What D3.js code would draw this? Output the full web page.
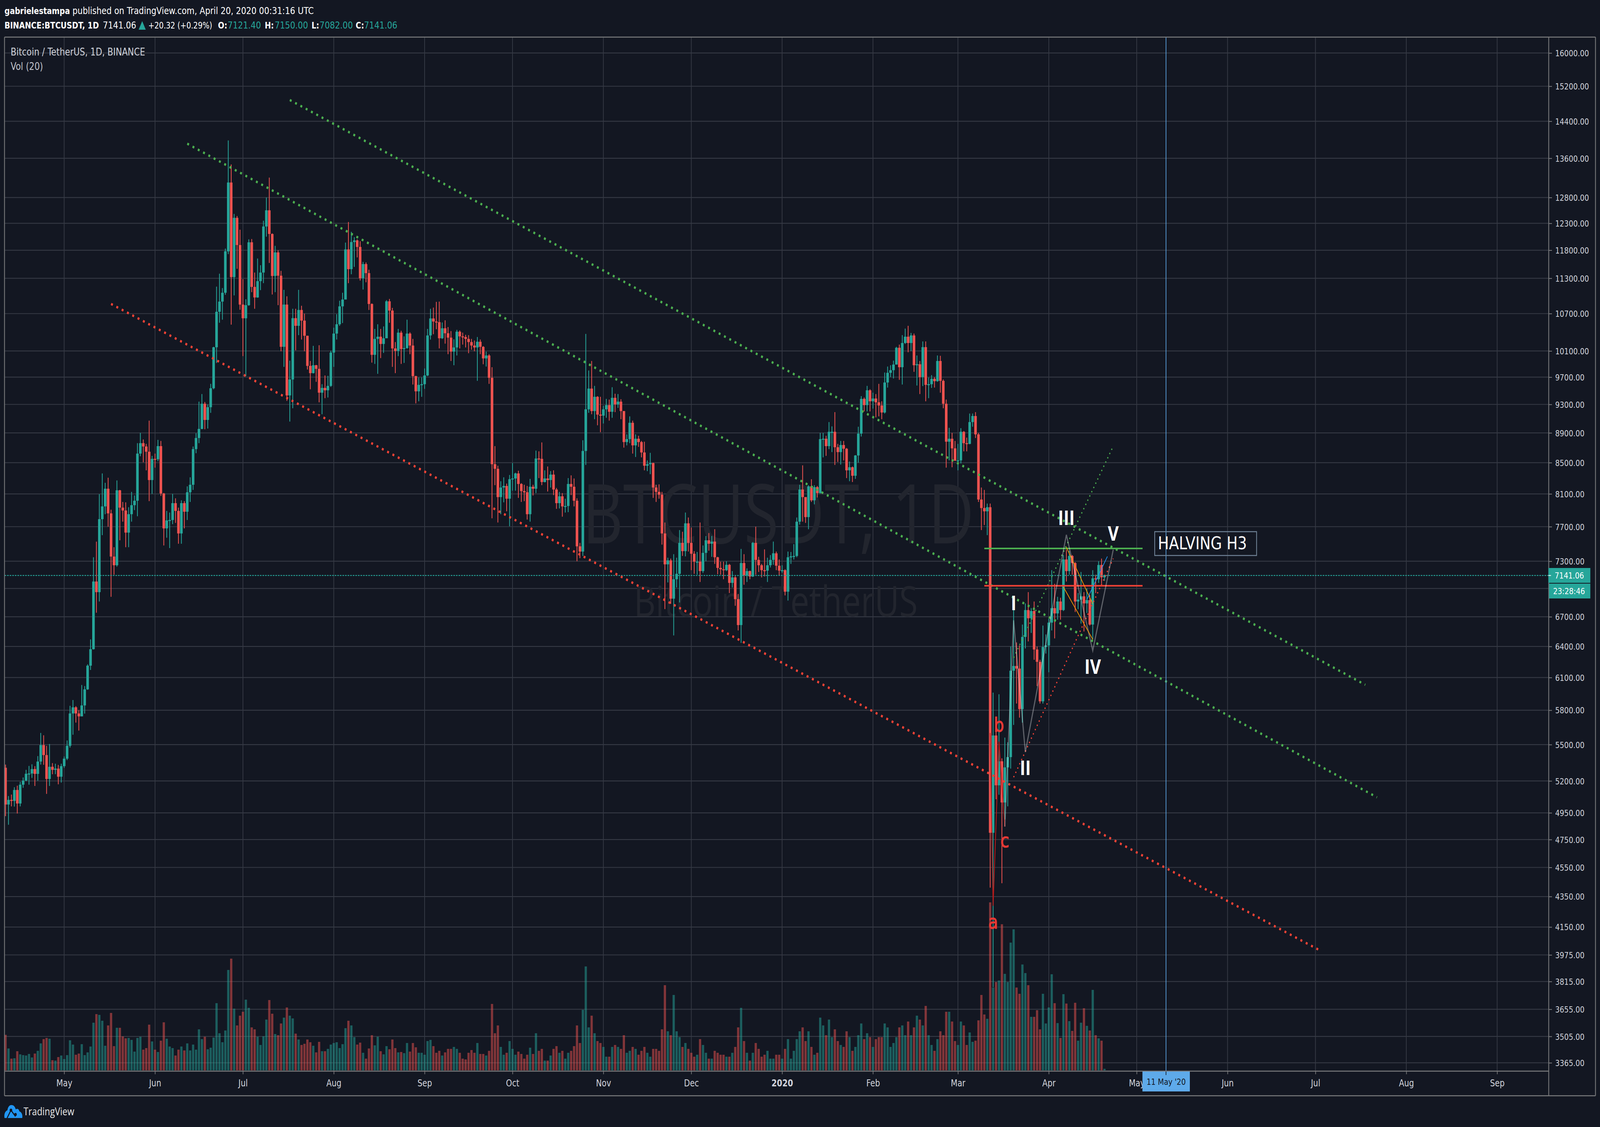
<!DOCTYPE html>
<html><head><meta charset="utf-8">
<script src="https://cdn.jsdelivr.net/npm/d3@7/dist/d3.min.js"></script>
<style>html,body{margin:0;padding:0;background:#131722;overflow:hidden;width:100%;height:100%}svg{display:block}text{font-family:"DejaVu Sans",sans-serif}</style>
</head><body><div id="chart"></div>
<script>
const firstOpen = 5307;
const closes = [
5014,5050,5042,5128,5022,5170,5203,5258,5260,5296,5257,5358,5496,5412,5216,5315,5290,5300,5234,5320,
5382,5490,5771,5826,5771,5745,5843,5990,6213,6373,7075,6960,7790,7945,8165,7860,7353,7255,8145,7930,7895,7630,7850,7960,8015,8620,8760,8715,8645,8275,8550,
8545,8720,8105,7680,7775,7780,7985,7890,7620,7985,7880,8120,8215,8680,8830,8955,9310,9080,9260,9535,10158,10730,10900,11050,11780,13100,11320,12405,11895,10850,
10623,10840,11945,11150,10970,11250,11400,12240,12550,12100,11340,11760,11345,10165,10850,9430,9665,10625,10500,10760,10585,10340,9870,9760,9880,9825,9470,9540,9505,9570,10075,
10375,10525,10820,10935,11815,11460,11950,11980,11860,11300,11550,11390,10860,10040,10290,10325,10210,10300,10905,10750,10140,10100,10390,10130,10145,10375,10185,9715,9490,9585,9595,
9725,10345,10620,10570,10560,10300,10460,10380,10310,10090,10155,10405,10330,10320,10290,10240,10185,10155,10245,10165,9985,10030,9690,8480,8420,8060,8180,8200,8040,8286,
8295,8360,8225,8135,8120,7850,8190,8165,8555,8550,8250,8295,8275,8345,8155,7985,8070,7945,7950,8225,8190,8015,7470,7410,8655,9230,9530,9205,9410,9155,9140,
9230,9290,9195,9395,9300,9340,9205,8775,8815,9040,8730,8820,8775,8635,8460,8480,8495,8180,8125,8090,7620,7265,7310,6890,7100,7160,7510,7415,7740,7510,
7385,7295,7295,7190,7395,7540,7500,7525,7345,7225,7210,7200,7260,7060,7120,6885,6615,7280,7145,7190,7130,7510,7315,7255,7200,7195,7255,7315,7390,7250,7195,
7200,6965,7345,7355,7360,7760,8155,8060,7815,8195,8020,8185,8110,8815,8820,8720,8915,8915,8705,8640,8735,8685,8400,8440,8330,8595,8890,9380,9290,9505,9345,
9385,9330,9285,9185,9620,9765,9805,9890,10150,9850,10225,10325,10225,10345,9880,9895,9700,10160,9585,9595,9675,9640,9945,9645,9310,8780,8820,8690,8525,
8530,8915,8760,8750,9050,9135,8880,8030,7925,7885,7935,4800,5578,5165,5360,5030,5310,5395,6165,6210,6185,5810,6495,6770,6685,6760,6370,6250,5880,6395,6410,
6640,6790,6735,6860,6770,7320,7190,7360,7280,6860,6880,6915,6840,6875,6620,7110,7100,7258,7121.4,7141.06];
const highs = [
5333,5080,5092,5150,5162,5193,5228,5290,5322,5335,5320,5403,5600,5580,5490,5505,5345,5340,5330,5340,
5400,5535,5840,5892,5836,5800,6030,6020,6225,6470,7345,7524,8097,8360,8240,8305,7905,7460,8270,8150,8000,7995,7935,8125,8080,8760,8900,8810,8750,9070,8590,
8620,8805,8790,8112,7890,7870,8100,8045,7930,8020,8010,8195,8310,8715,8895,9340,9450,9335,9300,9600,10165,11155,11380,11130,11830,13980,13470,12480,12440,12180,
11285,10940,12000,12006,11400,11650,11530,12350,12800,13200,12110,11880,11800,11430,11100,10990,9950,10780,10780,11100,10830,10700,10340,9945,10180,9885,10190,9595,9725,9720,10103,
10470,10690,10915,11050,11940,12325,12140,12040,12000,11965,11590,11580,11450,10870,10450,10525,10450,10490,10925,10945,10795,10240,10450,10420,10330,10600,10395,10290,9720,9695,9695,
9830,10450,10780,10800,10895,10900,10555,10590,10480,10415,10285,10435,10425,10390,10355,10350,10290,10265,10320,10280,10175,10090,10050,9850,8720,8460,8260,8310,8230,8340,
8495,8370,8395,8235,8215,8200,8290,8215,8660,8650,8770,8400,8450,8390,8400,8175,8125,8110,8040,8300,8335,8295,8045,7510,8800,10370,9800,9945,9570,9420,9410,
9280,9380,9370,9550,9455,9450,9375,9205,8880,9130,9070,8880,8860,8790,8780,8530,8630,8500,8215,8220,8125,7750,7340,7330,7380,7340,7660,7640,7870,7810,
7690,7415,7405,7750,7480,7590,7625,7590,7670,7350,7295,7295,7300,7270,7190,7135,6940,7440,7380,7220,7195,7520,7700,7350,7270,7435,7340,7370,7525,7410,7320,
7255,7210,7410,7405,7495,7810,8215,8465,8060,8210,8285,8210,8200,8900,8900,8860,9050,8990,9190,8750,8790,8790,8695,8515,8450,8600,8985,9420,9400,9570,9520,
9470,9450,9600,9345,9770,9860,9880,9950,10165,10200,10350,10455,10500,10385,10375,10030,9945,10250,10250,9695,9730,9700,10030,10025,9665,9370,8970,8900,8790,
8750,8965,8925,8835,9170,9170,9190,8900,8180,8150,7980,7980,5960,5640,5945,5385,5560,5520,6400,6920,6440,6410,6620,6840,6960,6790,6860,6400,6270,6610,6520,
6680,7200,7050,6910,6900,7370,7430,7420,7370,7290,6950,7180,6960,7000,6930,7200,7150,7300,7330,7150];
const lows = [
4925,4860,5000,4998,4945,5000,5145,5198,5170,5225,5160,5202,5333,5331,5097,5160,5254,5255,5173,5187,
5306,5370,5475,5585,5690,5620,5745,5770,5985,6172,6370,6742,6860,7600,7850,7700,6910,7150,7240,7540,7760,7460,7460,7760,7900,7825,8585,8505,8400,8010,8100,
8435,8520,8075,7480,7570,7450,7730,7745,7500,7500,7680,7780,8000,8150,8625,8760,8950,8950,8960,9180,9520,9914,10550,10600,11015,11730,10520,11005,11467,10764,
10020,9715,10830,11060,10780,10965,11095,11215,12050,11570,11020,11060,10840,10095,9855,9350,9057,9245,10110,10350,10280,10095,9815,9520,9755,9630,9330,9160,9390,9400,9555,
9855,10280,10500,10545,10940,11215,11370,11500,11670,11260,11105,11230,10760,9920,9900,9750,9990,10070,10300,10550,9855,9760,10020,9900,9915,10135,10050,9590,9315,9345,9410,
9525,9715,10280,10365,10445,10140,10290,10215,10050,9945,9880,10030,10140,10200,10155,10065,10120,10095,9645,10050,9895,9860,9600,7800,8210,7750,7850,7995,7885,7705,
8140,8140,8050,8000,8010,7785,7760,8080,8110,8300,8210,8245,8130,8180,8085,7915,7920,7820,7870,7875,8085,7945,7300,7335,7360,8470,9180,9160,9090,9005,8910,
9030,9110,9070,9110,9190,9250,9090,8700,8730,8760,8620,8575,8710,8570,8400,8390,8350,8050,8000,8040,7490,6780,7065,6835,6510,7010,6850,7360,7355,7410,
7200,7160,7150,7070,7170,7300,7420,7350,7270,7155,7150,7100,7190,6950,7010,6815,6560,6435,7040,7070,7100,7125,7150,7180,7120,7130,7070,7230,7260,7200,7140,
7170,6925,6870,7270,7320,7345,7725,7760,7745,7670,8000,7970,8055,8105,8570,8590,8680,8640,8470,8510,8475,8530,8300,8260,8250,8290,8500,8850,9200,9200,9200,
9240,9115,9130,9090,9170,9545,9700,9680,9890,9660,9590,10210,10080,10100,9780,9575,9450,9567,9345,9390,9540,9545,9630,9470,9245,8435,8530,8440,8525,
8400,8490,8650,8650,8745,8985,8830,8000,7660,7720,7600,4410,3782,5055,5090,4440,4900,5000,5300,5670,5860,5734,5690,6380,6450,6535,6270,6020,5860,5860,6330,
6150,6560,6480,6670,6670,6760,7075,7150,7150,6750,6780,6630,6550,6740,6610,6470,6950,7060,7055,7082];
const volumes = [
91,56,30,31,49,41,39,38,42,33,43,50,69,80,83,81,26,25,34,38,
29,39,77,66,40,43,67,39,46,61,122,144,142,127,63,115,147,62,109,109,87,82,83,78,48,83,86,53,57,117,74,
53,47,76,123,81,61,57,38,53,61,51,69,51,66,53,105,80,86,54,58,84,172,95,72,102,257,286,158,115,140,
150,181,160,110,105,86,65,87,130,180,145,93,90,120,135,161,140,133,94,79,65,68,79,72,63,46,73,49,49,55,
66,70,72,57,67,108,127,115,85,66,71,45,30,56,90,64,86,49,41,62,54,79,57,46,47,44,70,48,70,59,45,
45,
40,75,78,62,45,50,38,46,55,55,60,55,45,30,28,45,52,45,70,42,42,38,50,170,95,115,60,40,45,75,
55,40,48,42,30,40,58,42,95,50,55,25,25,38,55,62,45,50,30,45,50,62,115,70,155,266,110,140,95,75,70,
60,35,35,60,65,60,55,90,45,50,60,55,40,50,60,45,35,55,55,50,105,218,100,90,193,100,85,60,70,55,
45,35,40,80,65,45,30,30,50,45,40,40,35,35,45,60,110,160,75,45,25,45,70,55,35,40,50,30,30,40,40,
30,55,80,30,50,80,100,110,75,100,60,40,45,135,115,90,130,85,105,75,65,60,100,85,50,60,90,120,80,95,85,
60,80,85,85,120,110,60,70,85,110,115,90,125,90,110,140,130,115,165,90,65,50,80,100,90,150,150,125,75,
65,125,115,
65,97,73,76,128,193,143,132,430,212,226,230,374,247,226,327,361,212,196,271,249,218,137,137,154,105,196,120,
161,246,172,121,83,195,171,126,101,173,76,122,159,114,102,206,90,82,76,4];
const priceTicks = [16000,15200,14400,13600,12800,12300,11800,11300,10700,10100,9700,9300,8900,8500,8100,7700,7300,7000,6700,6400,6100,5800,5500,5200,4950,4750,4550,4350,4150,3975,3815,3655,3505,3365];
const monthTicks = ["2019-05-01","2019-06-01","2019-07-01","2019-08-01","2019-09-01","2019-10-01","2019-11-01","2019-12-01","2020-01-01","2020-02-01","2020-03-01","2020-04-01","2020-05-01","2020-06-01","2020-07-01","2020-08-01","2020-09-01"];
const monthLabels = ["May","Jun","Jul","Aug","Sep","Oct","Nov","Dec","2020","Feb","Mar","Apr","May","Jun","Jul","Aug","Sep"];
const bigDottedGreen = [[["2019-07-17",14880],["2020-07-18",6032]],[["2019-06-12",13910],["2020-07-22",5070]]];
const bigDottedRed = [["2019-05-17",10861],["2020-07-02",4008]];
const smallDottedGreen = [["2020-03-20",6290],["2020-04-23",8720]];
const smallDottedRed = [["2020-03-20",5230],["2020-04-23",7330]];
const waveGrey = [["2020-03-17",4846],["2020-03-20",6664],["2020-03-24",5437],["2020-04-07",7604],["2020-04-16",6359],["2020-04-23",7432]];
const waveRed = [["2020-03-12",5600],["2020-03-13",4288],["2020-03-15",5526],["2020-03-17",4846]];
const orangeLines = [[["2020-04-07",7459],["2020-04-16",6835]],[["2020-04-06",7015],["2020-04-16",6470]]];
const blueLine = [["2020-04-14",6880],["2020-04-21",7354]];
const resistance = [["2020-03-10",7446],["2020-05-03",7446]];
const support = [["2020-03-10",7029],["2020-05-03",7029]];
const waveLabels = [["I","2020-03-20",6770],["II","2020-03-24",5247],["III","2020-04-07",7722],["IV","2020-04-16",6134],["V","2020-04-23",7535]];
const abcLabels = [["a","2020-03-13",4141],["b","2020-03-15",5611],["c","2020-03-17",4693]];

const C = {bg:"#131722",grid:"#363a45",border:"#7b7c7e",text:"#d1d4dc",teal:"#26a69a",red:"#ef5350",green:"#4caf50",dred:"#f44336",blue:"#5eaaea"};
const W=4962,H=2885,L=14,T=95,R=4803,B=2742,RR=4948,BB=2805;

const P=d3.utcParse("%Y-%m-%d");
const start=P("2019-04-11");
const dates=d3.range(376).map(i=>d3.utcDay.offset(start,i));
const candles=dates.map((d,i)=>({d,o:i?closes[i-1]:firstOpen,h:highs[i],l:lows[i],c:closes[i],v:volumes[i]}));

const x=d3.scaleUtc().domain([P("2019-05-01"),P("2020-09-01")]).range([199,4643]);
const y=d3.scaleLog().domain([16000,3365]).range([135.7,2720.7]);
const yv=d3.scaleLinear().domain([0,430]).range([2740,2310]);
const pt=p=>[x(P(p[0])),y(p[1])];
const line=pts=>d3.line()(pts.map(pt));

// The whole 4962x2885 drawing is fitted to the window that is actually available.
const svg=d3.select("#chart").append("svg").attr("width",window.innerWidth).attr("height",window.innerHeight)
  .attr("viewBox",`0 0 ${W} ${H}`).attr("preserveAspectRatio","none");
svg.append("rect").attr("width",W).attr("height",H).attr("fill",C.bg);
svg.append("clipPath").attr("id","plot").append("rect").attr("x",L).attr("y",T).attr("width",R-L).attr("height",B-T);

// grid
const grid=svg.append("g").attr("clip-path","url(#plot)").attr("stroke",C.grid).attr("stroke-width",2.2);
grid.selectAll(".h").data(priceTicks).join("line").attr("x1",L).attr("x2",R).attr("y1",d=>y(d)).attr("y2",d=>y(d));
grid.selectAll(".v").data(monthTicks).join("line").attr("y1",T).attr("y2",B).attr("x1",d=>x(P(d))).attr("x2",d=>x(P(d)));

// watermark
svg.append("text").attr("x",1806).attr("y",1391).attr("font-size",210).attr("fill","#22252e").attr("textLength",1215).attr("lengthAdjust","spacingAndGlyphs").style("font-family","'Open Sans'").text("BTCUSDT, 1D");
svg.append("text").attr("x",1966).attr("y",1578).attr("font-size",108).attr("fill","#22252e").attr("textLength",880).attr("lengthAdjust","spacingAndGlyphs").style("font-family","'Open Sans'").text("Bitcoin / TetherUS");

const plot=svg.append("g").attr("clip-path","url(#plot)");
// volume
plot.append("g").selectAll("rect").data(candles).join("rect")
 .attr("x",d=>x(d.d)-3.5).attr("width",7).attr("y",d=>yv(d.v)).attr("height",d=>yv(0)-yv(d.v))
 .attr("fill",d=>d.c>=d.o?C.teal:C.red).attr("opacity",.5);
// candles
const cg=plot.append("g");
cg.selectAll("line").data(candles).join("line").attr("x1",d=>x(d.d)).attr("x2",d=>x(d.d)).attr("y1",d=>y(d.h)).attr("y2",d=>y(d.l))
 .attr("stroke",d=>d.c>=d.o?C.teal:C.red).attr("stroke-width",2.4);
cg.selectAll("rect").data(candles).join("rect").attr("x",d=>x(d.d)-4).attr("width",8)
 .attr("y",d=>y(Math.max(d.o,d.c))).attr("height",d=>Math.max(2.5,Math.abs(y(d.o)-y(d.c))))
 .attr("fill",d=>d.c>=d.o?C.teal:C.red);

// price line
plot.append("line").attr("x1",L).attr("x2",R).attr("y1",y(7141.06)).attr("y2",y(7141.06)).attr("stroke",C.teal).attr("stroke-width",2.2).attr("stroke-dasharray","5 3");

// drawings
const draw=svg.append("g").attr("clip-path","url(#plot)").attr("fill","none");
draw.selectAll(".bg").data(bigDottedGreen).join("path").attr("d",line).attr("stroke",C.green).attr("stroke-width",6).attr("stroke-dasharray","6 12");
draw.append("path").attr("d",line(bigDottedRed)).attr("stroke",C.dred).attr("stroke-width",6).attr("stroke-dasharray","6 12");
draw.append("path").attr("d",line(smallDottedGreen)).attr("stroke",C.green).attr("stroke-width",3.5).attr("stroke-dasharray","3.5 9");
draw.append("path").attr("d",line(smallDottedRed)).attr("stroke",C.dred).attr("stroke-width",3.5).attr("stroke-dasharray","3.5 9");
draw.append("path").attr("d",line(resistance)).attr("stroke",C.green).attr("stroke-width",4);
draw.append("path").attr("d",line(support)).attr("stroke",C.dred).attr("stroke-width",4);
draw.append("path").attr("d",line(waveRed)).attr("stroke","#b71c1c").attr("stroke-width",2.5);
draw.append("path").attr("d",line(waveGrey)).attr("stroke","rgba(255,255,255,.32)").attr("stroke-width",3.5);
draw.selectAll(".o").data(orangeLines).join("path").attr("d",line).attr("stroke","#ff9800").attr("stroke-width",2);
draw.append("path").attr("d",line(blueLine)).attr("stroke","#2196f3").attr("stroke-width",2);

// halving vertical
const xH=x(P("2020-05-11"));
svg.append("line").attr("x1",xH).attr("x2",xH).attr("y1",T).attr("y2",B).attr("stroke",C.blue).attr("stroke-width",2);

// halving box
svg.append("rect").attr("x",3581).attr("y",1361).attr("width",316).attr("height",61).attr("fill","none").attr("stroke","#6f8296").attr("stroke-width",2.5);
svg.append("text").attr("x",3591).attr("y",1406).attr("font-size",45).attr("fill","#fff").attr("textLength",276).attr("lengthAdjust","spacingAndGlyphs").text("HALVING H3");

// labels
svg.append("g").selectAll("text").data(waveLabels).join("text").attr("x",d=>x(P(d[1]))).attr("y",d=>y(d[2]))
 .attr("text-anchor","middle").attr("font-size",52).attr("font-weight",700).attr("fill","#fff").style("font-family","'Open Sans'").text(d=>d[0]);
svg.append("g").selectAll("text").data(abcLabels).join("text").attr("x",d=>x(P(d[1]))).attr("y",d=>y(d[2]))
 .attr("text-anchor","middle").attr("font-size",50).attr("fill","#e53935").attr("stroke","#e53935").attr("stroke-width",1.5).text(d=>d[0]);

// borders
const bd=svg.append("g").attr("stroke",C.border).attr("stroke-width",2.5);
[[L,T,RR,T],[L,T,L,BB],[L,BB,RR,BB],[RR,T,RR,BB],[R,T,R,BB],[L,B,R,B]].forEach(a=>bd.append("line").attr("x1",a[0]).attr("y1",a[1]).attr("x2",a[2]).attr("y2",a[3]));

// axes
const ya=d3.axisRight(y).tickValues(priceTicks).tickFormat(d3.format(".2f")).tickSize(10).tickPadding(10);
const yg=svg.append("g").attr("transform",`translate(${R},0)`).call(ya);
yg.select(".domain").remove();
yg.selectAll("line").attr("stroke",C.border).attr("stroke-width",2);
yg.selectAll("text").attr("fill",C.text).attr("font-size",22).attr("dy","0.36em").style("font-family","'DejaVu Sans'");
const xa=d3.axisBottom(x).tickValues(monthTicks.map(P)).tickFormat((d,i)=>monthLabels[i]).tickSize(8).tickPadding(14);
const xg=svg.append("g").attr("transform",`translate(0,${B})`).call(xa);
xg.select(".domain").remove();
xg.selectAll("line").attr("stroke",C.border).attr("stroke-width",2);
xg.selectAll("text").attr("fill",C.text).attr("font-size",24).style("font-family","'DejaVu Sans'").attr("font-weight",(d,i)=>monthLabels[i]==="2020"?700:400);

// date tag
svg.append("rect").attr("x",3543).attr("y",2743).attr("width",147).attr("height",51).attr("fill",C.blue);
svg.append("line").attr("x1",xH).attr("x2",xH).attr("y1",2743).attr("y2",2752).attr("stroke","#131722").attr("stroke-width",2);
svg.append("text").attr("x",3616.5).attr("y",2777).attr("text-anchor","middle").attr("font-size",22).attr("fill","#131722").text("11 May '20");

// price tags
svg.append("rect").attr("x",4802).attr("y",1454).attr("width",130).attr("height",38).attr("fill",C.teal);
svg.append("rect").attr("x",4804).attr("y",1494).attr("width",128).attr("height",38).attr("fill",C.teal);
svg.append("line").attr("x1",4802).attr("x2",4810).attr("y1",y(7141.06)).attr("y2",y(7141.06)).attr("stroke","#fff").attr("stroke-width",2);
svg.append("text").attr("x",4867).attr("y",1481).attr("text-anchor","middle").attr("font-size",22).attr("fill","#fff").text("7141.06");
svg.append("text").attr("x",4866).attr("y",1521).attr("text-anchor","middle").attr("font-size",22).attr("fill","#fff").text("23:28:46");

// header
const line1=svg.append("text").attr("x",14).attr("y",36).attr("font-size",25).attr("fill","#fff");
line1.append("tspan").attr("font-weight",700).attr("font-size",23).text("gabrielestampa");
line1.append("tspan").text(" published on TradingView.com, April 20, 2020 00:31:16 UTC");
const seg=[[14,"BINANCE:BTCUSDT, 1D",700,"#fff",23],[319,"7141.06",400,"#fff",25],[460,"+20.32 (+0.29%)",400,"#fff",22.5],[676,"O:",700,"#fff",23],[706,"7121.40",400,C.teal,25],[821,"H:",700,"#fff",23],[852,"7150.00",400,C.teal,25],[966,"L:",700,"#fff",23],[991,"7082.00",400,C.teal,25],[1103,"C:",700,"#fff",23],[1129,"7141.06",400,C.teal,25]];
svg.append("g").selectAll("text").data(seg).join("text").attr("x",d=>d[0]).attr("y",73).attr("font-size",d=>d[4]).attr("font-weight",d=>d[2]).attr("fill",d=>d[3]).text(d=>d[1]);
svg.append("path").attr("d","M441 54L452 76L430 76Z").attr("fill",C.teal);

// legend
svg.append("text").attr("x",33).attr("y",142).attr("font-size",26).attr("fill","#d1d4dc").text("Bitcoin / TetherUS, 1D, BINANCE");
svg.append("text").attr("x",33).attr("y",179).attr("font-size",26).attr("fill","#c0c3cb").text("Vol (20)");

// footer logo
const lg=svg.append("g");
lg.append("path").attr("fill","#2196f3").attr("d","M14 2862C12 2851 16 2845 23 2842C25 2832 31 2828 37 2829C44 2829 47 2835 49 2840C52 2837 59 2838 60 2845C66 2846 71 2853 69 2862Z");
lg.append("path").attr("fill","none").attr("stroke","#131722").attr("stroke-width",3).attr("d","M22 2862L34 2842L48 2858");
lg.append("circle").attr("cx",34).attr("cy",2842).attr("r",4).attr("fill","#131722");
lg.append("circle").attr("cx",48).attr("cy",2853).attr("r",4).attr("fill","#131722");
svg.append("text").attr("x",73).attr("y",2855).attr("font-size",27.5).attr("fill","#e8e8e8").style("font-family","'Open Sans'").text("TradingView");
</script></body></html>
